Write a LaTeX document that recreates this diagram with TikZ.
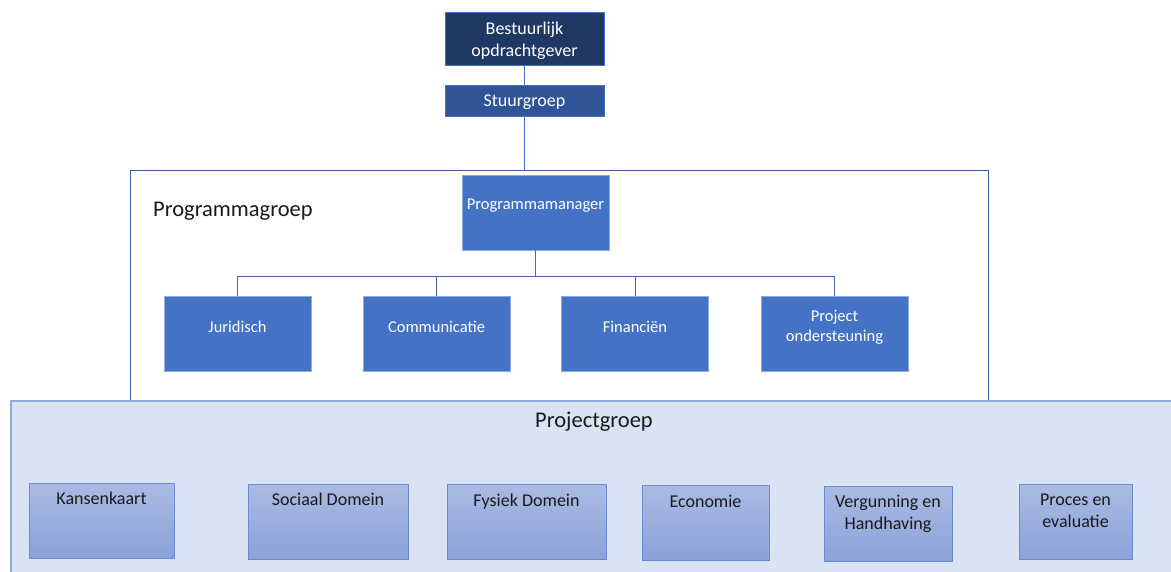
\documentclass[tikz,border=0pt]{standalone}
\usepackage{fontspec}
\setmainfont{Carlito}
\definecolor{navy}{HTML}{203864}
\definecolor{steel}{HTML}{2F5597}
\definecolor{boxedge}{HTML}{4472C4}
\definecolor{midblue}{HTML}{4472C4}
\definecolor{midedge}{HTML}{8FAADC}
\definecolor{linkblue}{HTML}{4472C4}
\definecolor{forkblue}{HTML}{4A67A8}
\definecolor{pgedge}{HTML}{3A5DA6}
\definecolor{pjfill}{HTML}{DAE3F3}
\definecolor{pjedge}{HTML}{8FAADC}
\definecolor{projtop}{HTML}{AABAE3}
\definecolor{projbottom}{HTML}{8BA2D8}
\definecolor{projedge}{HTML}{6A8BD3}
\definecolor{darktext}{HTML}{1A1A1A}
\begin{document}
\begin{tikzpicture}[
		x=1pt, y=-1pt,
		topbox/.style={rectangle, draw=boxedge, minimum width=159pt, inner sep=0pt},
		toptext/.style={text=white, align=center, inner sep=0pt, yshift=-2pt, font=\fontsize{18}{22}\selectfont},
		midbox/.style={rectangle, fill=midblue, draw=midedge, minimum width=147pt, minimum height=75pt, inner sep=0pt},
		midtext/.style={text=white, align=center, inner sep=0pt, yshift=6.5pt, font=\fontsize{16.5}{20}\selectfont},
		projbox/.style={rectangle, top color=projtop, bottom color=projbottom, draw=projedge, minimum height=75pt, inner sep=0pt},
		projtext/.style={anchor=north, text=darktext, align=center, inner sep=0pt, yshift=-9.5pt, font=\fontsize{18}{22}\selectfont},
		frame/.style={rectangle, inner sep=0pt},
		title/.style={text=darktext, inner sep=0pt, font=\fontsize{22.5}{27}\selectfont},
		link/.style={draw=linkblue, line width=0.8pt},
		fork/.style={draw=forkblue, line width=1pt}
	]
	\useasboundingbox (0,0) rectangle (1171,572);
	\clip (0,0) rectangle (1171,572);

	% groups
	\node[frame, draw=pgedge, line width=1pt, minimum width=858pt, minimum height=229pt] (pgroep) at (559,285.5) {};
	\node[frame, fill=pjfill, draw=pjedge, line width=1.5pt, minimum width=1180pt, minimum height=190pt, anchor=north west] (pjgroep) at (10,400) {};
	\node[title, anchor=base west] (pgtitle) at (153,217) {Programmagroep};
	\node[title, anchor=base] (pjtitle) at (594,427) {Projectgroep};

	% top
	\node[topbox, fill=navy, minimum height=53pt, label={[toptext]center:Bestuurlijk\\opdrachtgever}] (bestuur) at (524.5,38.5) {};
	\node[topbox, fill=steel, minimum height=31pt, label={[toptext]center:Stuurgroep}] (stuur) at (524.5,100.5) {};
	\draw[link] (bestuur) -- (stuur);
	\draw[link] (stuur) -- (stuur.south |- pgroep.north);

	% programmagroep
	\node[midbox, label={[midtext]center:Programmamanager}] (pmanager) at (535.5,212.5) {};
	\foreach \name/\x/\txt in {jur/237.5/Juridisch, com/436.5/Communicatie, fin/635/Financiën, ondst/834.5/{Project\\ondersteuning}}
		\node[midbox, label={[midtext]center:\txt}] (\name) at (\x,333.5) {};
	\coordinate (split) at (535.5,277);
	\draw[fork] (pmanager) -- (split);
	\foreach \name in {jur,com,fin,ondst}
		\draw[fork] (split) -| (\name);

	% projectgroep
	\foreach \name/\x/\y/\w/\txt in {kans/101.5/520.5/145/Kansenkaart, sociaal/328/521.5/160/Sociaal Domein, fysiek/526.5/522/159/Fysiek Domein, econ/705.5/523/127/Economie, vergun/888/523.5/128/{Vergunning en\\Handhaving}, proces/1075.5/522/113/{Proces en\\evaluatie}}
		\node[projbox, minimum width=\w pt, label={[projtext]north:\txt}] (\name) at (\x,\y) {};
\end{tikzpicture}
\end{document}
